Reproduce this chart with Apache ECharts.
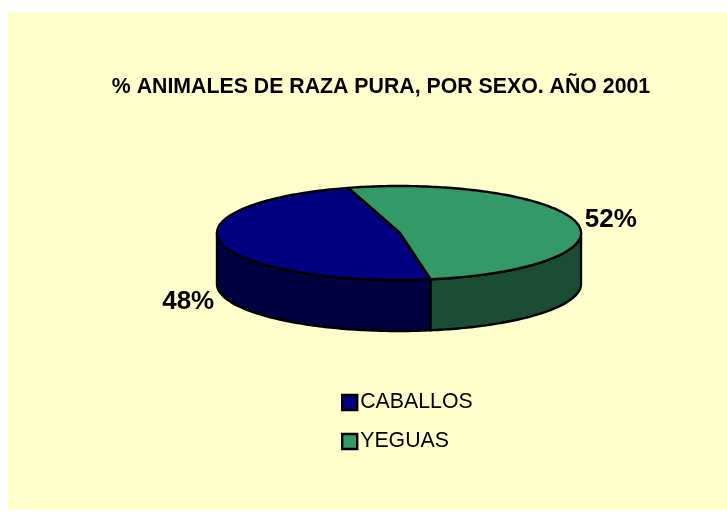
<!DOCTYPE html>
<html>
<head>
<meta charset="utf-8">
<style>html,body{margin:0;padding:0;background:#fff}#c{width:727px;height:514px}</style>
<script src="https://cdn.jsdelivr.net/npm/echarts@6/dist/echarts.min.js"></script>
</head>
<body>
<div id="c"></div>
<script>
const categories = ['CABALLOS', 'YEGUAS'];
const values = [48.3, 51.7];
const labels = ['48%', '52%'];
const titleText = '% ANIMALES DE RAZA PURA, POR SEXO. AÑO 2001';

const topColors = ['#000080', '#339966'];
const sideColors = ['#000040', '#1A4D33'];
const labelOffsets = [[-33.5, 58], [34.5, -3]];
const FONT = '"Liberation Sans", Arial, sans-serif';
const CX = 399, CY = 233, RX = 182, RY = 47, DEPTH = 51;
const START_DEG = 170; // clockwise from top, where the first slice begins

const total = values.reduce((a, b) => a + b, 0);
function pt(deg, dy) {
  const r = deg * Math.PI / 180;
  return [CX + RX * Math.sin(r), CY - RY * Math.cos(r) + (dy || 0)];
}
function arc(a, b, dy) {
  const n = Math.max(2, Math.ceil(Math.abs(b - a)));
  const out = [];
  for (let i = 0; i <= n; i++) out.push(pt(a + (b - a) * i / n, dy));
  return out;
}
function sliceRange(idx) {
  let a = START_DEG;
  for (let i = 0; i < idx; i++) a += values[i] / total * 360;
  return [a, a + values[idx] / total * 360];
}
function wallRanges(a, b) {
  // visible outer wall: angles 90..270 (mod 360)
  const out = [];
  for (const shift of [0, 360, -360]) {
    const lo = Math.max(a, 90 + shift), hi = Math.min(b, 270 + shift);
    if (hi > lo) out.push([lo, hi]);
  }
  return out;
}
const lineStyle = { stroke: '#000', lineWidth: 2.4, lineJoin: 'round' };

function makeSeries(idx) {
  return {
    type: 'custom',
    name: categories[idx],
    coordinateSystem: 'none',
    silent: true,
    z: 2 + idx,
    itemStyle: { color: topColors[idx], borderColor: '#000', borderWidth: 2 },
    data: [values[idx]],
    renderItem: function (params, api) {
      const span = api.value(0) / total * 360;
      const a = sliceRange(idx)[0], b = a + span;
      const children = [];
      wallRanges(a, b).forEach(function (w) {
        const poly = arc(w[0], w[1], 0).concat(arc(w[1], w[0], DEPTH));
        children.push({ type: 'polygon', z2: 1, shape: { points: poly },
          style: Object.assign({ fill: sideColors[idx] }, lineStyle) });
      });
      const top = [[CX + 1, CY]].concat(arc(a, b, 0));
      children.push({ type: 'polygon', z2: 2, shape: { points: top },
        style: Object.assign({ fill: topColors[idx] }, lineStyle) });
      const mid = pt((a + b) / 2, 0);
      children.push({ type: 'text', z2: 3,
        x: mid[0] + labelOffsets[idx][0], y: mid[1] + labelOffsets[idx][1],
        style: { text: labels[idx], fill: '#000', font: 'bold 26px ' + FONT,
          align: 'center', verticalAlign: 'middle' } });
      return { type: 'group', children: children };
    }
  };
}

const chart = echarts.init(document.getElementById('c'), null, { renderer: 'canvas' });
chart.setOption({
  animation: false,
  backgroundColor: '#fff',
  graphic: [{ type: 'rect', z: -1, silent: true,
    shape: { x: 8, y: 12, width: 719, height: 498 },
    style: { fill: '#FFFFCC' } }],
  title: {
    text: titleText, left: 381, top: 87, textAlign: 'center', textVerticalAlign: 'middle',
    padding: 0,
    textStyle: { fontFamily: FONT, fontWeight: 'bold', fontSize: 21.3, color: '#000' }
  },
  legend: {
    data: categories, orient: 'vertical', left: 341, top: 392, padding: 0,
    itemWidth: 15, itemHeight: 15, itemGap: 18, icon: 'rect',
    selectedMode: false,
    itemStyle: { borderColor: '#000', borderWidth: 2.4 },
    textStyle: { fontFamily: FONT, fontSize: 21.3, color: '#000', padding: [0, 0, 0, -2] }
  },
  series: categories.map(function (_, i) { return makeSeries(i); })
});
</script>
</body>
</html>
